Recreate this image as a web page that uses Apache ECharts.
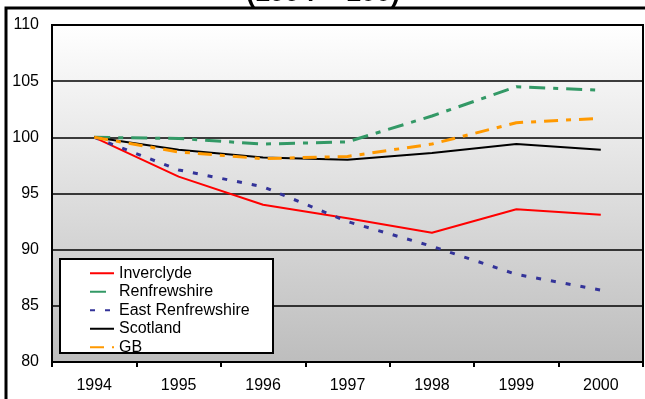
<!DOCTYPE html>
<html><head><meta charset="utf-8">
<script src="https://cdn.jsdelivr.net/npm/echarts@6/dist/echarts.min.js"></script>
<style>html,body{margin:0;padding:0;background:#fff}#c{width:645px;height:399px}</style>
</head><body><div id="c"></div>
<script>
const years = ['1994','1995','1996','1997','1998','1999','2000'];
const seriesNames = ['Inverclyde','Renfrewshire','East Renfrewshire','Scotland','GB'];
const inverclyde = [100, 96.5, 94.0, 92.8, 91.5, 93.6, 93.1];
const renfrewshire = [100, 99.9, 99.4, 99.6, 101.9, 104.5, 104.2];
const eastRenfrewshire = [100, 97.1, 95.6, 92.5, 90.3, 87.8, 86.4];
const scotland = [100, 98.9, 98.2, 98.0, 98.6, 99.4, 98.9];
const gb = [100, 98.7, 98.1, 98.3, 99.4, 101.3, 101.7];
const yMin = 80, yMax = 110, yInterval = 5;
const titleText = '(1994 = 100)';

const font = 'Liberation Sans, Arial, sans-serif';
const chart = echarts.init(document.getElementById('c'), null, {renderer:'canvas'});
function line(name, data, color, width, dash){
  return {name, type:'line', data, symbol:'none', showSymbol:false, smooth:false,
    lineStyle:{color, width, type: dash || 'solid', cap:'butt'}, itemStyle:{color}, z:3};
}
chart.setOption({
  animation:false,
  backgroundColor:'#fff',
  grid:{left:52, top:25, right:2, bottom:37, show:true, borderColor:'#000', borderWidth:2,
    backgroundColor:{type:'linear', x:0, y:0, x2:0, y2:1,
      colorStops:[{offset:0,color:'#ffffff'},{offset:1,color:'#bdbdbd'}]}},
  xAxis:{type:'category', data:years, boundaryGap:true,
    axisLine:{lineStyle:{color:'#000', width:2}},
    axisTick:{show:true, inside:false, length:5, lineStyle:{color:'#000', width:2}},
    axisLabel:{color:'#000', fontSize:16, fontFamily:font, margin:16},
    splitLine:{show:false}},
  yAxis:{type:'value', min:yMin, max:yMax, interval:yInterval,
    axisLine:{show:true, lineStyle:{color:'#000', width:2}},
    axisTick:{show:false},
    axisLabel:{color:'#000', fontSize:16, fontFamily:font, margin:13},
    splitLine:{show:true, lineStyle:{color:'#000', width:1.6}}},
  legend:{data:seriesNames, orient:'vertical', left:89, top:264, padding:0, itemGap:0,
    itemWidth:24, itemHeight:6, z:8,
    textStyle:{color:'#000', fontSize:16, fontFamily:font, lineHeight:18.5, padding:[0,0,0,0]},
    itemStyle:{opacity:0, borderWidth:0}, selectedMode:false},
  graphic:[
    {type:'rect', z:6, shape:{x:60, y:259, width:213, height:94},
      style:{fill:'#fff', stroke:'#000', lineWidth:2}},
    {type:'rect', z:10, shape:{x:6, y:8, width:700, height:500},
      style:{fill:'none', stroke:'#000', lineWidth:3}},
    {type:'text', z:10, x:323, y:7, style:{text:titleText, font:'bold 27px ' + font,
      fill:'#000', textAlign:'center', textVerticalAlign:'bottom'}}
  ],
  series:[
    line('Inverclyde', inverclyde, '#ff0000', 2),
    line('Renfrewshire', renfrewshire, '#339966', 3, [16,8,5,8]),
    line('East Renfrewshire', eastRenfrewshire, '#333399', 3, [5,10]),
    line('Scotland', scotland, '#000000', 2),
    line('GB', gb, '#ff9900', 3, [14,8,5,8])
  ]
});
</script></body></html>
